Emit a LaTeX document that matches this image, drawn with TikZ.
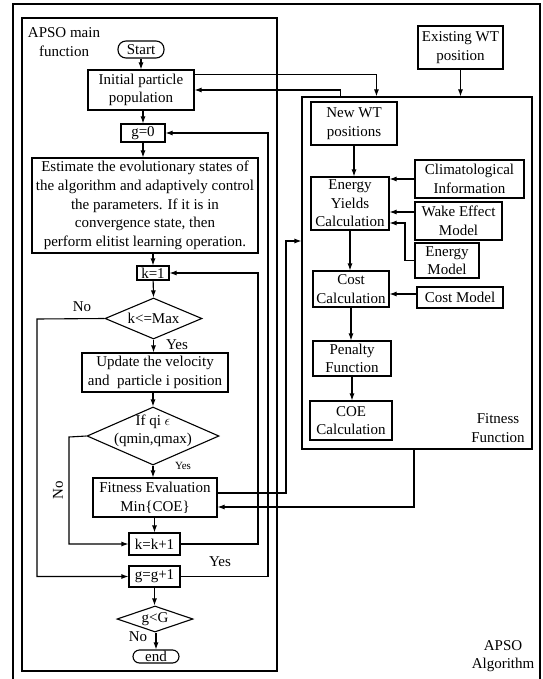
\documentclass[tikz,border=0pt]{standalone}
\usepackage{fontspec}
\setmainfont{Liberation Serif}
\usetikzlibrary{arrows.meta,shapes.geometric}
\begin{document}
\begin{tikzpicture}[x=1pt,y=-1pt,
  every node/.style={font=\fontsize{15}{18.6}\selectfont},
  box/.style={draw,line width=1.1pt,align=center,inner sep=0pt},
  term/.style={box},
  dia/.style={draw,diamond,line width=1.1pt,inner sep=0pt},
  txt/.style={align=center,inner sep=0pt},
  small/.style={txt,font=\fontsize{11}{13}\selectfont},
  ln/.style={line width=1.1pt},
  arr/.style={ln,-{Latex[length=7pt,width=5pt]}},
]
\useasboundingbox (0,0) rectangle (542,679);
% outer frame (cut off at bottom)
\draw[ln] (13,679) -- (13,4) -- (540,4) -- (540,679);
% APSO main function frame
\node[box,minimum width=255,minimum height=653] (mainbox) at (149.5,344.5) {};
\node[txt] (maintitle) at (64,42) {APSO main\\function};

% left flow
\node[term,rounded corners=8pt,minimum width=46,minimum height=17] (start) at (141,49.5) {Start};
\node[box,minimum width=106,minimum height=40] (init) at (141,90) {Initial particle\\population};
\node[box,minimum width=44,minimum height=18] (g0) at (143,133) {g=0};
\node[box,minimum width=226,minimum height=95] (est) at (145,205.5) {Estimate the evolutionary states of\\the algorithm and adaptively control\\the parameters. If it is in\\convergence state, then\\perform elitist learning operation.};
\node[box,minimum width=32,minimum height=14] (k1) at (153,273) {k=1};
\node[dia,minimum width=97,minimum height=41] (d1) at (153.5,318.5) {};
\node[txt] (d1t) at (d1.center) {k<=Max};
\node[box,minimum width=146,minimum height=39] (upd) at (155,372.5) {Update the velocity\\and\ \ particle i position};
\node[dia,minimum width=132,minimum height=58] (d2) at (153,436) {};
\node[txt] (d2t) at ([yshift=5]d2.center) {If qi $\epsilon$\\(qmin,qmax)};
\node[box,minimum width=124,minimum height=39] (fit) at (155,497.5) {Fitness Evaluation\\Min\{COE\}};
\node[box,minimum width=51,minimum height=22] (kk) at (154.5,544) {k=k+1};
\node[box,minimum width=51,minimum height=21] (gg) at (154.5,576.5) {g=g+1};
\node[dia,minimum width=76,minimum height=26] (d3) at (155,619) {};
\node[txt] (d3t) at (d3.center) {g<G};
\node[term,rounded corners=6.5pt,minimum width=46,minimum height=13] (endn) at (156,656.5) {end};

% labels
\node[txt] (no1) at (82,307) {No};
\node[txt] (yes1) at (177,345) {Yes};
\node[txt,rotate=90] (no2) at (58,490) {No};
\node[small] (yes2) at (183,466) {Yes};
\node[txt] (yes3) at (220,562) {Yes};
\node[txt] (no3) at (138,637) {No};

% coordinates for bends
\coordinate (noL1) at (37,319);
\coordinate (noL2) at (69,437);
\coordinate (kloop) at (258,544);
\coordinate (gloop) at (268,576.5);
\coordinate (feout) at (286,493);
\coordinate (emc) at (405,260.5);

% right side
\node[box,minimum width=85,minimum height=43] (ewt) at (460.5,47.5) {Existing WT\\position};
\node[box,minimum width=230,minimum height=352] (fitbox) at (417,273) {};
\node[txt] (fittitle) at (498,428) {Fitness\\Function};
\node[box,minimum width=86,minimum height=43] (nwt) at (354,123.5) {New WT\\positions};
\node[box,minimum width=78,minimum height=53] (ey) at (350,203.5) {Energy\\Yields\\Calculation};
\node[box,minimum width=109,minimum height=38] (clim) at (469.5,179) {Climatological\\Information};
\node[box,minimum width=87,minimum height=38] (wake) at (458.5,221) {Wake Effect\\Model};
\node[box,minimum width=64,minimum height=35] (em) at (447,260.5) {Energy\\Model};
\node[box,minimum width=76,minimum height=36] (cost) at (351,289) {Cost\\Calculation};
\node[box,minimum width=86,minimum height=21] (cm) at (460,297.5) {Cost Model};
\node[box,minimum width=78,minimum height=35] (pen) at (352,358.5) {Penalty\\Function};
\node[box,minimum width=82,minimum height=39] (coe) at (351,420.5) {COE\\Calculation};
\node[txt] (algo) at (503,656) {APSO\\Algorithm};

% connectors left
\draw[arr] (start) -- (init);
\draw[arr] (g0.north |- init.south) -- (g0.north);
\draw[arr] (g0.south) -- (g0.south |- est.north);
\draw[arr] (k1.north |- est.south) -- (k1.north);
\draw[arr] (k1) -- (d1.north);
\draw[arr] (d1.south) -- (upd.north -| d1.south);
\draw[arr] (d1.west) -- (noL1) |- (gg.west);
\draw[arr] (upd.south -| d2.north) -- (d2.north);
\draw[arr] (d2.west) -- (noL2) |- (kk.west);
\draw[arr] (d2.south) -- (d2.south |- fit.north);
\draw[arr] (kk.north |- fit.south) -- (kk.north);
\draw[arr] (kk.east) -- (kloop) |- (k1.east);
\draw[arr] (gg.east) -- (gloop) |- (g0.east);
\draw[arr] (gg.south) -- (gg.south |- d3.north);
\draw[arr] (endn.north |- d3.south) -- (endn.north);

% connectors between main and fitness
\draw[arr] ([yshift=-5]init.north east) -| ([xshift=75]fitbox.north west);
\draw[arr] ([xshift=39]fitbox.north west) |- (init.east);
\draw[arr] (ewt.south) -- (ewt.south |- fitbox.north);
\draw[arr] ([yshift=4.5]fit.east) -- (feout) |- ([yshift=32]fitbox.west);
\draw[arr] ([xshift=-3]fitbox.south) |- ([yshift=-9.5]fit.east);

% connectors right
\draw[arr] (nwt.south) -- (nwt.south |- ey.north);
\draw[arr] (clim.west) -- (clim.west -| ey.east);
\draw[arr] ([yshift=9]wake.west) -- ([yshift=9]wake.west -| ey.east);
\draw[arr] (em.west) -- (emc) |- ([yshift=-19.5]ey.east);
\draw[arr] (ey.south) -- (ey.south |- cost.north);
\draw[arr] ([yshift=3.5]cm.west) -- ([yshift=3.5]cm.west -| cost.east);
\draw[arr] (cost.south) -- (cost.south |- pen.north);
\draw[arr] (pen.south) -- (pen.south |- coe.north);
\end{tikzpicture}
\end{document}
